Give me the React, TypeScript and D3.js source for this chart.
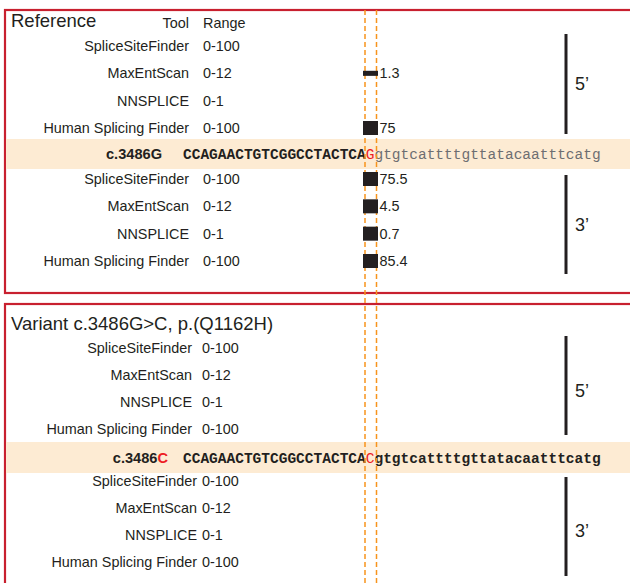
import React from "react";
import * as d3 from "d3";

// Splice prediction tools and their score ranges
const tools = ["SpliceSiteFinder", "MaxEntScan", "NNSPLICE", "Human Splicing Finder"];
const rangeLabels = ["0-100", "0-12", "0-1", "0-100"];
const rangeMax = [100, 12, 1, 100];

// Scores per site (null = no site predicted)
const refDonor: (number | null)[] = [null, 1.3, null, 75];
const refAcceptor: (number | null)[] = [75.5, 4.5, 0.7, 85.4];
const varDonor: (number | null)[] = [null, null, null, null];
const varAcceptor: (number | null)[] = [null, null, null, null];

// Sequence context around c.3486
const upstreamSeq = "CCAGAACTGTCGGCCTACTCA";
const downstreamSeq = "gtgtcattttgttatacaatttcatg";
const refBase = "G";
const altBase = "C";
const refTitle = "Reference";
const varTitle = "Variant c.3486G>C, p.(Q1162H)";

const W = 630;
const H = 583;
const RED = "#c8202f";
const ORANGE = "#f7941d";
const INK = "#231f20";
const BAND = "#fdebd3";
const SANS = "'Liberation Sans', Arial, sans-serif";
const MONO = "'Liberation Mono', 'Courier New', monospace";

// bar geometry: fixed width, height from fraction of the tool's range
const barX0 = 363;
const barW = 15;
const barH = d3.scaleLinear().domain([0, 0.3]).range([0, 14]).clamp(true);

type Section = {
  values: (number | null)[];
  y0: number;
  y1: number;
  labelX: number;
  rangeX: number;
  bracket: [number, number];
  primeY: number;
  prime: string;
};

function Rows({ s }: { s: Section }) {
  const y = d3.scalePoint<string>().domain(tools).range([s.y0, s.y1]);
  return (
    <g>
      {tools.map((t, i) => {
        const cy = y(t)!;
        const v = s.values[i];
        const h = v == null ? 0 : barH(v / rangeMax[i]);
        return (
          <g key={t}>
            <text x={s.labelX} y={cy + 5} textAnchor="end" fontSize={14.4} fill={INK} fontFamily={SANS}>
              {t}
            </text>
            <text x={s.rangeX} y={cy + 5} fontSize={14.4} fill={INK} fontFamily={SANS}>
              {rangeLabels[i]}
            </text>
            {v != null && (
              <g>
                <rect x={barX0} y={cy - h / 2} width={barW} height={h} fill={INK} />
                <text x={barX0 + barW + 1.5} y={cy + 5} fontSize={14.4} fill={INK} fontFamily={SANS}>
                  {v}
                </text>
              </g>
            )}
          </g>
        );
      })}
      <line x1={566} x2={566} y1={s.bracket[0]} y2={s.bracket[1]} stroke={INK} strokeWidth={3} />
      <text x={575} y={s.primeY} fontSize={18} fill={INK} fontFamily={SANS}>
        {s.prime}
      </text>
    </g>
  );
}

function SeqBand({
  y,
  h,
  label,
  labelBase,
  labelRight,
  base,
  variant,
}: {
  y: number;
  h: number;
  label: string;
  labelBase: string;
  labelRight: number;
  base: string;
  variant: boolean;
}) {
  const cy = y + h / 2 + 5;
  return (
    <g>
      <rect x={6} y={y} width={W - 6} height={h} fill={BAND} />
      <text x={labelRight} y={cy} textAnchor="end" fontSize={14.6} fontWeight="bold" fill={INK} fontFamily={SANS}>
        {label}
        <tspan fill={variant ? "#ed1c24" : INK}>{labelBase}</tspan>
      </text>
      <text x={183} y={cy} fontSize={14.5} fontFamily={MONO}>
        <tspan fontWeight="bold" fill={INK}>
          {upstreamSeq}
        </tspan>
        <tspan fill="#ed1c24">{base}</tspan>
        <tspan fontWeight={variant ? "bold" : "normal"} fill={variant ? INK : "#6d6e71"}>
          {downstreamSeq}
        </tspan>
      </text>
    </g>
  );
}

export default function App() {
  const sections: Section[] = [
    { values: refDonor, y0: 46, y1: 128, labelX: 189, rangeX: 203, bracket: [34, 134], primeY: 90, prime: "5’" },
    { values: refAcceptor, y0: 179, y1: 261, labelX: 189, rangeX: 203, bracket: [175, 274], primeY: 231, prime: "3’" },
    { values: varDonor, y0: 348, y1: 429, labelX: 192, rangeX: 202, bracket: [336, 435], primeY: 397, prime: "5’" },
    { values: varAcceptor, y0: 481, y1: 561.5, labelX: 197, rangeX: 202, bracket: [477, 576], primeY: 537, prime: "3’" },
  ];
  return (
    <div style={{ position: "absolute", left: 0, top: 0 }}>
      <svg width={W} height={H} style={{ display: "block", background: "#fff" }}>
        {/* panel frames */}
        <rect x={5} y={10} width={W + 10} height={283} fill="none" stroke={RED} strokeWidth={2.2} />
        <rect x={5} y={304} width={W + 10} height={H} fill="none" stroke={RED} strokeWidth={2.2} />

        {/* bands with sequence */}
        <SeqBand y={139} h={30} label="c.3486" labelBase={refBase} labelRight={162} base={refBase} variant={false} />
        <SeqBand y={442} h={31} label="c.3486" labelBase={altBase} labelRight={168} base={altBase} variant={true} />

        {/* dashed guides around the mutated base */}
        {[365, 376.5].map((x) => (
          <line key={x} x1={x} x2={x} y1={10} y2={H} stroke={ORANGE} strokeWidth={1.5} strokeDasharray="5,3" />
        ))}

        {/* titles */}
        <text x={11} y={27} fontSize={18.5} fill={INK} fontFamily={SANS}>
          {refTitle}
        </text>
        <text x={189} y={28} textAnchor="end" fontSize={14.4} fill={INK} fontFamily={SANS}>
          Tool
        </text>
        <text x={203} y={28} fontSize={14.4} fill={INK} fontFamily={SANS}>
          Range
        </text>
        <text x={11} y={330} fontSize={18.5} fill={INK} fontFamily={SANS}>
          {varTitle}
        </text>

        {sections.map((s, i) => (
          <Rows key={i} s={s} />
        ))}
      </svg>
    </div>
  );
}
